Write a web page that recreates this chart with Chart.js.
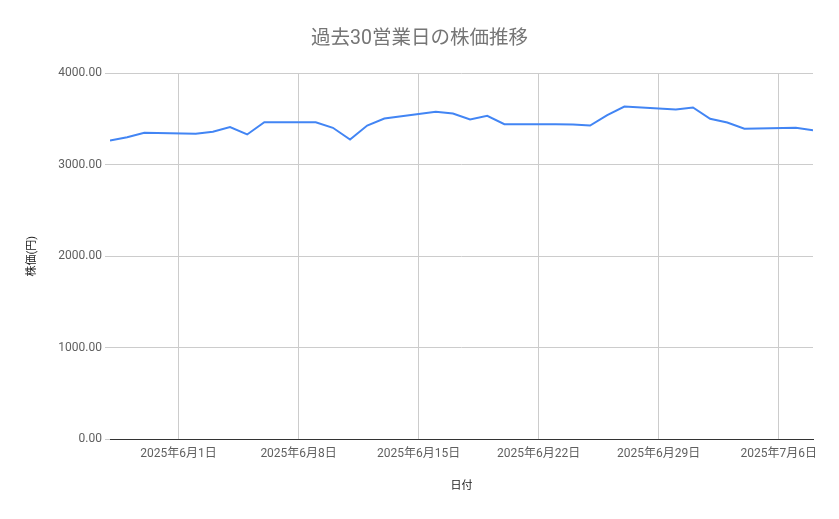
<!DOCTYPE html>
<html lang="ja">
<head>
<meta charset="utf-8">
<title>過去30営業日の株価推移</title>
<script src="https://cdn.jsdelivr.net/npm/chart.js@4.4.1/dist/chart.umd.min.js"></script>
<style>
  html, body { margin: 0; padding: 0; background: #fff; }
  #wrap { width: 839px; height: 519px; position: relative; }
</style>
</head>
<body>
<div id="wrap"><canvas id="priceChart"></canvas></div>
<script>
const dates = [
  '2025-05-28', '2025-05-29', '2025-05-30',
  '2025-06-02', '2025-06-03', '2025-06-04', '2025-06-05', '2025-06-06',
  '2025-06-09', '2025-06-10', '2025-06-11', '2025-06-12', '2025-06-13',
  '2025-06-16', '2025-06-17', '2025-06-18', '2025-06-19', '2025-06-20',
  '2025-06-23', '2025-06-24', '2025-06-25', '2025-06-26', '2025-06-27',
  '2025-06-30', '2025-07-01', '2025-07-02', '2025-07-03', '2025-07-04',
  '2025-07-07', '2025-07-08'
];
const prices = [
  3266, 3302, 3350,
  3339, 3361, 3412, 3332, 3466,
  3466, 3405, 3277, 3430, 3507,
  3580, 3562, 3496, 3536, 3445,
  3443, 3440, 3430, 3543, 3638,
  3605, 3627, 3503, 3463, 3394,
  3405, 3379
];
const xTickDates = ['2025-06-01', '2025-06-08', '2025-06-15', '2025-06-22', '2025-06-29', '2025-07-06'];
const yTicks = [0, 1000, 2000, 3000, 4000];

const FONT = "Roboto, 'Noto Sans CJK JP', sans-serif";
const DAY = 86400000;

function toDay(s) {
  const [y, m, d] = s.split('-').map(Number);
  return Date.UTC(y, m - 1, d) / DAY;
}

function formatDay(n) {
  const d = new Date(n * DAY);
  return d.getUTCFullYear() + '年' + (d.getUTCMonth() + 1) + '月' + d.getUTCDate() + '日';
}

const points = dates.map((s, i) => ({ x: toDay(s), y: prices[i] }));

const ctx = document.getElementById('priceChart').getContext('2d');

new Chart(ctx, {
  type: 'line',
  data: {
    datasets: [{
      label: '株価',
      data: points,
      borderColor: '#4285f4',
      backgroundColor: '#4285f4',
      borderWidth: 2,
      pointRadius: 0,
      tension: 0
    }]
  },
  options: {
    responsive: true,
    maintainAspectRatio: false,
    animation: false,
    layout: { padding: 0 },
    plugins: {
      legend: { display: false },
      tooltip: { enabled: false },
      title: {
        display: true,
        text: '過去30営業日の株価推移',
        color: '#757575',
        font: { family: FONT, size: 19.5, weight: 'normal' },
        padding: { top: 27, bottom: 23 }
      }
    },
    scales: {
      x: {
        type: 'linear',
        min: toDay(dates[0]),
        max: toDay(dates[dates.length - 1]),
        afterBuildTicks: (scale) => {
          scale.ticks = xTickDates.map((s) => ({ value: toDay(s) }));
        },
        afterFit: (scale) => { scale.height = 80; },
        ticks: {
          autoSkip: false,
          maxRotation: 0,
          padding: 8,
          color: '#5f5f5f',
          font: { family: FONT, size: 12 },
          callback: (v) => formatDay(v)
        },
        grid: { color: '#cccccc', drawTicks: false },
        border: { display: true, color: '#333333', width: 1 },
        title: {
          display: true,
          text: '日付',
          color: '#222222',
          font: { family: FONT, size: 11 },
          padding: { top: 0, bottom: 26 }
        }
      },
      y: {
        min: 0,
        max: 4000,
        afterBuildTicks: (scale) => {
          scale.ticks = yTicks.map((v) => ({ value: v }));
        },
        afterFit: (scale) => { scale.width = 110; },
        ticks: {
          padding: 3,
          color: '#5f5f5f',
          font: { family: FONT, size: 12 },
          callback: (v) => Number(v).toFixed(2)
        },
        grid: { color: '#cccccc', tickLength: 5 },
        border: { display: false },
        title: {
          display: true,
          text: '株価(円)',
          color: '#222222',
          font: { family: FONT, size: 11 },
          padding: { top: 26, bottom: 0 }
        }
      },
      // empty right-hand strip so the plot stops short of the edge
      spacer: {
        position: 'right',
        display: true,
        afterFit: (scale) => { scale.width = 26; },
        ticks: { display: false },
        grid: { display: false },
        border: { display: false }
      }
    }
  }
});
</script>
</body>
</html>
